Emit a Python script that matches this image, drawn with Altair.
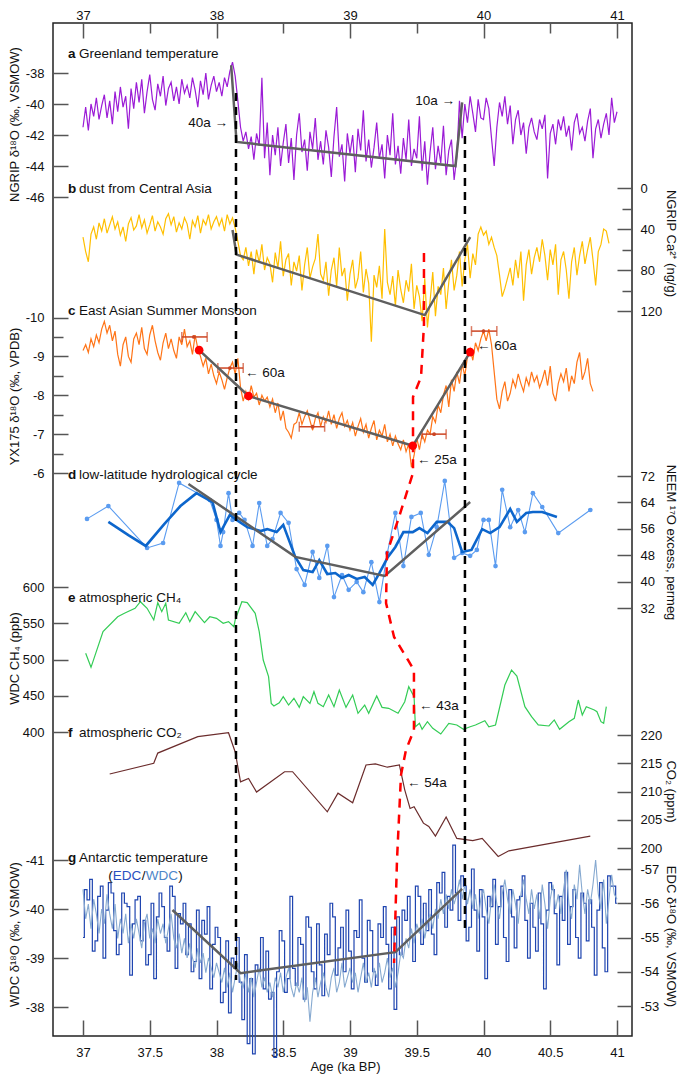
import altair as alt
import pandas as pd

FONT = "Liberation Sans"
STEP = 0.02


def grid(start, n):
    return [round(start + STEP * i, 2) for i in range(n)]


# ---------------- a: NGRIP d18O (permil) ----------------
A_D18O = [
    -41.5, -40.2, -41.7, -40.0, -40.8, -39.6, -41.0, -40.1, -39.4, -40.9,
    -39.8, -41.3, -39.2, -40.5, -38.9, -40.2, -39.5, -41.6, -39.0, -40.3,
    -38.6, -39.9, -38.4, -40.6, -39.2, -38.1, -39.7, -40.4, -38.7, -39.5,
    -38.2, -40.1, -39.0, -38.6, -39.8, -38.9, -40.0, -38.4, -39.3, -38.8,
    -39.6, -38.3, -39.1, -40.2, -38.5, -39.4, -38.0, -39.7, -38.8, -38.2,
    -39.2, -38.6, -39.5, -38.3, -38.9, -37.9, -37.3, -38.2, -39.8, -41.5,
    -42.4, -41.8, -42.9, -42.1, -43.6, -41.9, -42.7, -38.3, -43.5, -41.2,
    -44.6, -42.0, -43.3, -41.5, -44.0, -42.5, -41.3, -43.8, -42.2, -44.9,
    -42.0, -40.6, -43.1, -42.3, -44.3, -41.8, -42.9, -40.9, -43.6, -42.4,
    -43.9, -41.7, -42.8, -44.7, -42.1, -40.2, -43.4, -42.6, -45.0, -41.9,
    -43.2, -42.0, -44.4, -41.6, -43.0, -40.4, -43.7, -42.3, -44.1, -42.8,
    -41.2, -43.5, -42.6, -44.8, -42.0, -43.3, -40.6, -43.9, -42.7, -44.5,
    -42.2, -43.6, -41.0, -44.0, -42.9, -43.5, -40.8, -44.3, -42.4, -45.2,
    -43.1, -41.5, -44.2, -42.7, -43.8, -41.4, -44.6, -43.0, -42.3, -44.9,
    -43.4, -39.8, -42.2, -40.0, -41.2, -39.5, -40.6, -41.8, -39.7, -40.9,
    -41.0, -39.6, -40.3, -42.2, -44.0, -41.5, -39.9, -40.8, -39.5, -41.3,
    -40.1, -42.6, -41.0, -40.4, -42.0, -41.2, -43.2, -41.5, -40.9, -41.8,
    -42.3, -41.0, -41.6, -40.7, -44.8, -41.9, -41.3, -42.6, -41.0, -41.7,
    -40.8, -42.1, -41.4, -43.0, -41.2, -40.6, -41.9, -41.5, -42.4, -41.1,
    -40.3, -43.5, -41.6, -41.0, -42.2, -41.3, -40.6, -42.0, -39.6, -41.2,
    -40.5,
]
A_TREND_AGE = [38.11, 38.15, 39.79, 39.84]
A_TREND_VAL = [-37.5, -42.45, -44.0, -39.9]
A_NOTE_AGE = [38.086, 39.787]
A_NOTE_VAL = [-41.23, -39.81]
A_NOTE_TXT = ["40a \u2192", "10a \u2192"]

# ---------------- b: NGRIP Ca2+ (ng/g) ----------------
B_CA = [
    48, 62, 72, 45, 38, 50, 34, 42, 30, 44,
    36, 28, 40, 33, 46, 38, 52, 35, 29, 41,
    37, 26, 39, 31, 44, 36, 27, 42, 33, 38,
    45, 30, 25, 36, 28, 43, 34, 40, 29, 35,
    50, 32, 38, 27, 44, 31, 36, 26, 40, 33,
    28, 37, 30, 42, 26, 35, 29, 39, 52, 66,
    70, 58, 76, 62, 84, 60, 73, 55, 80, 68,
    74, 92, 63, 78, 52, 86, 70, 64, 95, 72,
    81, 66, 100, 75, 58, 88, 77, 69, 45, 84,
    90, 72, 105, 80, 68, 96, 58, 86, 78, 110,
    84, 70, 98, 88, 62, 102, 79, 93, 150, 85,
    97, 76, 108, 40, 92, 104, 86, 115, 80, 99,
    112, 90, 101, 74, 118, 95, 106, 130, 88, 136,
    110, 82, 125, 96, 104, 78, 118, 92, 70, 100,
    85, 62, 96, 70, 55, 88, 64, 75, 45, 38,
    46, 42, 55, 48, 58, 66, 85, 106, 98, 88,
    78, 95, 70, 88, 62, 110, 75, 60, 84, 68,
    58, 72, 50, 66, 90, 60, 75, 55, 104, 70,
    62, 80, 108, 72, 58, 85, 66, 52, 74, 60,
    48, 70, 95, 62, 55, 40, 42, 54,
]
B_TREND_AGE = [38.12, 38.15, 39.56, 39.90]
B_TREND_VAL = [41, 65, 124, 48]

# ---------------- c: YX175 d18O (permil) ----------------
C_D18O = [
    -9.15, -9.30, -9.10, -9.45, -9.25, -9.55, -9.35, -9.70, -9.90, -9.60,
    -9.80, -9.40, -9.65, -9.05, -8.75, -9.30, -9.50, -9.00, -8.85, -9.45,
    -9.60, -9.30, -9.75, -9.20, -9.05, -9.55, -9.80, -9.40, -9.10, -8.90,
    -9.35, -9.60, -9.20, -9.45, -9.15, -8.95, -9.50, -9.30, -9.70, -9.25,
    -9.40, -9.05, -9.55, -9.20, -9.00, -8.75, -8.95, -8.55, -8.80, -8.50,
    -8.30, -8.60, -8.40, -8.15, -8.45, -8.70, -8.85, -8.55, -8.95, -8.20,
    -7.85, -8.10, -7.90, -8.25, -7.95, -8.05, -7.75, -8.00, -7.85, -7.95,
    -7.70, -7.90, -7.55, -7.80, -7.35, -7.60, -7.15, -7.05, -6.90, -7.25,
    -7.30, -7.55, -7.25, -7.45, -7.60, -7.35, -7.10, -7.40, -7.55, -7.20,
    -7.45, -7.30, -7.60, -7.25, -7.50, -7.15, -7.40, -7.55, -7.20, -7.35,
    -7.10, -7.30, -6.95, -7.20, -7.40, -7.05, -7.25, -6.90, -7.15, -7.35,
    -6.85, -7.10, -6.95, -7.25, -6.80, -7.00, -6.70, -6.95, -6.75, -6.60,
    -6.85, -6.55, -6.75, -6.15, -6.45, -6.90, -6.60, -7.00, -6.80, -7.10,
    -7.00, -7.45, -7.30, -7.75, -7.55, -8.00, -8.25, -7.70, -8.40, -8.10,
    -8.60, -8.30, -8.80, -8.50, -9.00, -9.20, -8.90, -9.35, -9.15, -9.45,
    -9.65, -9.40, -9.70, -9.30, -8.60, -7.90, -7.65, -8.10, -8.35, -7.85,
    -8.05, -8.40, -8.20, -8.55, -8.30, -8.10, -8.45, -8.25, -8.60, -8.35,
    -8.50, -8.20, -8.40, -8.65, -8.25, -8.75, -8.05, -7.85, -8.30, -8.55,
    -8.35, -8.70, -8.10, -8.50, -8.30, -8.85, -9.10, -8.40, -8.60, -8.95,
    -8.30, -8.10,
]
C_PT_AGE = [37.87, 38.24, 39.47, 39.90]
C_PT_VAL = [-9.16, -7.98, -6.70, -9.11]
C_ERR_MID = [37.83, 38.10, 38.72, 39.63, 40.00]
C_ERR_LO = [37.74, 38.01, 38.62, 39.54, 39.91]
C_ERR_HI = [37.93, 38.20, 38.81, 39.72, 40.10]
C_ERR_VAL = [-9.50, -8.70, -7.19, -7.00, -9.65]
C_NOTE_AGE = [38.213, 39.951, 39.502]
C_NOTE_VAL = [-8.573, -9.267, -6.337]
C_NOTE_TXT = ["\u2190 60a", "\u2190 60a", "\u2190 25a"]

# ---------------- d: NEEM 17O-excess (permeg) ----------------
D_AGE = [37.03, 37.19, 37.48, 37.60, 37.72, 37.95, 38.00, 38.03, 38.05, 38.09,
         38.12, 38.17, 38.21, 38.27, 38.32, 38.38, 38.42, 38.48, 38.54, 38.60,
         38.66, 38.72, 38.77, 38.83, 38.88, 38.94, 38.99, 39.05, 39.10, 39.16,
         39.22, 39.28, 39.34, 39.40, 39.46, 39.53, 39.59, 39.65, 39.71, 39.78,
         39.84, 39.90, 39.95, 40.00, 40.04, 40.09, 40.14, 40.20, 40.26, 40.31,
         40.37, 40.44, 40.56, 40.80]
D_XS = [59.0, 62.9, 50.2, 51.7, 69.9, 64.7, 58.7, 50.8, 55.0, 66.8,
        58.7, 60.8, 58.7, 50.8, 63.8, 50.8, 52.9, 60.8, 57.8, 43.8,
        39.0, 49.0, 41.1, 50.8, 35.3, 42.0, 37.5, 39.9, 36.8, 45.9,
        33.8, 48.7, 60.8, 44.7, 59.6, 60.8, 48.1, 56.5, 70.5, 47.2,
        48.7, 47.8, 49.6, 58.7, 58.7, 44.7, 67.8, 56.5, 61.7, 55.0,
        66.8, 62.6, 54.7, 61.7]
D_SM_AGE = [37.19, 37.34, 37.47, 37.61, 37.73, 37.85, 37.97, 38.03, 38.10, 38.15,
            38.23, 38.33, 38.38, 38.45, 38.50, 38.59, 38.65, 38.72, 38.77, 38.83,
            38.89, 38.94, 38.99, 39.05, 39.11, 39.17, 39.22, 39.28, 39.34, 39.40,
            39.47, 39.52, 39.58, 39.65, 39.73, 39.78, 39.84, 39.91, 39.99, 40.05,
            40.12, 40.20, 40.25, 40.32, 40.37, 40.44, 40.55]
D_SM = [58.1, 54.1, 50.8, 57.5, 62.9, 66.8, 64.1, 55.0, 60.2, 58.7,
        56.5, 55.3, 55.9, 55.0, 57.2, 47.5, 43.5, 42.9, 46.5, 42.3,
        42.6, 41.1, 42.0, 40.8, 41.4, 39.0, 42.6, 47.2, 50.5, 55.0,
        55.0, 56.2, 54.7, 58.1, 58.1, 56.2, 49.0, 49.6, 55.9, 54.7,
        56.5, 62.0, 58.1, 60.8, 61.1, 61.1, 59.6]
D_TREND_AGE = [37.79, 38.59, 39.26, 39.90]
D_TREND_VAL = [69.6, 47.5, 41.7, 64.1]

# ---------------- e: WDC CH4 (ppb) ----------------
E_AGE = [37.02, 37.06, 37.15, 37.26, 37.31, 37.39, 37.43, 37.48, 37.53, 37.56,
         37.59, 37.62, 37.64, 37.72, 37.77, 37.80, 37.84, 37.91, 37.95, 38.00,
         38.05, 38.09, 38.13, 38.14, 38.19, 38.23, 38.29, 38.32, 38.35, 38.39,
         38.41, 38.43, 38.47, 38.50, 38.54, 38.58, 38.62, 38.65, 38.70, 38.73,
         38.76, 38.80, 38.84, 38.88, 38.92, 38.97, 39.02, 39.06, 39.11, 39.14,
         39.20, 39.24, 39.29, 39.36, 39.41, 39.44, 39.48, 39.49, 39.52, 39.54,
         39.58, 39.62, 39.68, 39.74, 39.80, 39.85, 39.90, 39.94, 40.01, 40.04,
         40.09, 40.16, 40.21, 40.25, 40.31, 40.36, 40.41, 40.49, 40.53, 40.57,
         40.64, 40.68, 40.71, 40.74, 40.77, 40.83, 40.85, 40.88, 40.90, 40.92]
E_CH4 = [508.5, 489.2, 538.4, 559.0, 563.7, 570.6, 579.7, 570.6, 554.5, 578.4,
         566.0, 577.5, 554.5, 549.9, 564.6, 552.2, 566.0, 550.8, 559.0, 556.8,
         549.9, 552.2, 545.2, 554.5, 579.7, 578.4, 563.7, 538.4, 499.3, 476.3,
         439.5, 435.9, 440.4, 448.7, 437.2, 446.5, 434.0, 448.7, 439.5, 455.6,
         439.5, 434.9, 451.0, 434.9, 457.9, 434.0, 451.0, 425.8, 437.2, 425.8,
         449.7, 434.0, 432.7, 425.8, 441.8, 462.5, 448.7, 407.3, 412.0, 403.7,
         414.2, 405.1, 397.2, 412.0, 409.7, 403.7, 407.3, 409.7, 415.6, 407.3,
         409.7, 464.8, 485.5, 477.2, 434.9, 421.1, 409.7, 408.3, 416.6, 403.7,
         414.2, 418.9, 444.1, 423.4, 434.9, 430.3, 428.0, 414.2, 412.0, 434.9]
E_NOTE_AGE = [39.517]
E_NOTE_VAL = [435.9]
E_NOTE_TXT = ["\u2190 43a"]

# ---------------- f: CO2 (ppm) ----------------
F_AGE = [37.20, 37.53, 37.56, 37.86, 38.09, 38.14, 38.18, 38.24, 38.30, 38.51,
         38.57, 38.83, 38.91, 39.02, 39.12, 39.19, 39.28, 39.37, 39.41, 39.45,
         39.48, 39.55, 39.59, 39.64, 39.72, 39.80, 39.92, 39.99, 40.11, 40.19,
         40.80]
F_CO2 = [213.1, 215.0, 216.8, 219.7, 220.4, 217.0, 211.7, 212.3, 209.9, 213.5,
         213.5, 206.4, 209.7, 208.0, 214.7, 214.9, 214.3, 214.7, 210.3, 207.0,
         207.3, 204.4, 203.8, 202.1, 205.5, 201.7, 201.3, 201.7, 198.5, 199.5,
         202.1]
F_NOTE_AGE = [39.427]
F_NOTE_VAL = [211.56]
F_NOTE_TXT = ["\u2190 54a"]

# ---------------- g: Antarctic d18O (EDC right, WDC left) ----------------
G_EDC = [
    -55.0, -56.4, -56.1, -56.7, -54.6, -54.9, -56.2, -56.5, -54.4, -55.8,
    -56.6, -56.3, -55.2, -54.5, -54.8, -56.3, -56.0, -55.9, -53.9, -55.4,
    -56.1, -56.2, -54.9, -55.5, -54.2, -54.5, -56.0, -53.8, -55.6, -56.3,
    -55.9, -55.0, -54.6, -56.5, -56.2, -54.1, -55.7, -55.4, -56.0, -54.5,
    -55.4, -54.0, -54.3, -55.8, -53.8, -55.5, -55.1, -55.9, -53.5, -54.8,
    -55.3, -55.0, -53.1, -53.4, -54.9, -52.8, -54.4, -54.1, -55.0, -53.7,
    -52.6, -54.5, -51.9, -53.8, -51.6, -54.2, -54.0, -55.0, -53.5, -54.6,
    -53.2, -53.4, -51.5, -54.0, -55.2, -54.9, -53.4, -53.8, -56.2, -54.1,
    -53.6, -55.0, -54.8, -53.2, -55.6, -55.3, -54.0, -53.5, -55.4, -54.2,
    -53.3, -55.1, -54.5, -56.0, -55.6, -53.9, -54.7, -55.3, -54.0, -55.8,
    -54.6, -53.5, -55.2, -55.0, -56.1, -54.4, -53.7, -55.5, -55.2, -54.0,
    -53.6, -55.4, -55.0, -55.9, -54.8, -53.5, -55.3, -52.9, -55.6, -54.5,
    -55.8, -55.5, -56.2, -55.0, -54.3, -56.5, -56.2, -54.8, -56.0, -55.2,
    -56.4, -55.1, -54.5, -56.6, -56.3, -56.9, -55.3, -56.2, -55.8, -57.7,
    -56.3, -55.5, -56.8, -56.5, -54.9, -55.3, -57.0, -55.8, -54.6, -56.4,
    -55.6, -53.8, -56.2, -55.9, -56.7, -54.8, -55.9, -56.5, -55.0, -54.3,
    -56.4, -55.6, -54.7, -56.1, -56.2, -56.8, -55.5, -54.4, -56.0, -55.3,
    -54.6, -56.3, -55.4, -53.5, -55.8, -56.6, -56.4, -55.7, -54.2, -56.2,
    -55.5, -56.9, -54.8, -55.9, -56.4, -55.0, -54.4, -56.3, -56.0, -54.9,
    -56.1, -55.3, -53.9, -55.8, -56.6, -54.7, -54.0, -56.8, -56.5, -56.5,
    -56.0,
]
G_WDC = [
    -40.4, -39.8, -40.1, -39.6, -40.2, -39.9, -39.5, -40.0, -39.7, -40.3,
    -39.9, -39.6, -40.1, -39.4, -39.8, -39.5, -39.9, -39.3, -39.7, -39.4,
    -39.8, -39.5, -39.2, -39.7, -39.9, -39.4, -39.6, -39.3, -39.8, -39.5,
    -39.7, -39.3, -39.6, -39.9, -39.4, -39.2, -39.5, -39.1, -39.4, -39.0,
    -39.3, -39.0, -38.8, -39.2, -38.9, -39.1, -38.7, -39.0, -38.8, -38.6,
    -38.9, -38.7, -38.5, -38.8, -38.4, -38.7, -38.3, -38.6, -38.9, -38.5,
    -38.4, -38.7, -38.3, -38.6, -38.2, -38.5, -38.8, -38.4, -38.6, -38.3,
    -38.5, -38.2, -38.6, -38.4, -38.7, -38.3, -38.6, -38.8, -38.4, -38.2,
    -38.5, -38.3, -38.6, -38.1, -38.4, -37.7, -38.3, -38.6, -38.2, -38.5,
    -38.7, -38.4, -38.2, -38.6, -38.8, -38.3, -38.5, -38.9, -38.4, -38.6,
    -38.8, -38.5, -38.7, -38.3, -38.6, -38.9, -38.5, -38.7, -38.4, -38.8,
    -38.6, -38.9, -38.5, -38.7, -39.0, -38.6, -38.8, -38.4, -38.7, -39.1,
    -39.0, -39.4, -39.2, -39.6, -39.3, -39.7, -39.5, -39.8, -39.4, -39.7,
    -39.9, -39.6, -40.0, -39.8, -40.2, -39.9, -40.3, -40.0, -40.4, -40.1,
    -40.3, -40.6, -40.2, -40.5, -40.1, -40.4, -40.0, -40.3, -39.8, -40.2,
    -40.4, -40.0, -39.7, -40.2, -40.5, -40.1, -39.8, -40.3, -40.6, -40.2,
    -39.9, -40.4, -40.1, -39.7, -40.3, -40.6, -40.2, -39.9, -40.4, -40.0,
    -40.3, -39.8, -40.5, -40.1, -39.6, -40.2, -40.5, -40.0, -40.3, -39.9,
    -40.4, -40.8, -40.1, -39.8, -40.5, -40.2, -40.9, -40.3, -39.9, -40.4,
    -40.1, -40.5, -41.0, -40.3, -40.0, -40.6, -39.7, -40.2, -40.7, -40.3,
    -40.2,
]
G_TREND_AGE = [37.67, 38.18, 39.34, 39.84]
G_TREND_VAL = [-39.98, -38.69, -39.12, -40.41]

# ---------------- cross-panel guides (fraction of plot height) ----------------
RED_AGE = [39.554, 39.554, 39.532, 39.472, 39.472, 39.360, 39.277, 39.270,
           39.330, 39.434, 39.479, 39.479, 39.419, 39.382, 39.352, 39.330]
RED_POS = [0.2270, 0.2981, 0.3495, 0.3692, 0.4442, 0.4906, 0.5232, 0.5726,
           0.6061, 0.6288, 0.6387, 0.6979, 0.7177, 0.7424, 0.8263, 0.9280]
BLACK_AGE = [38.146, 39.861]
BLACK_TOP = [0.0691, 0.1115]
BLACK_BOT = [0.9447, 0.8983]

PANEL_LETTER = ["a", "b", "c", "d", "e", "f", "g"]
PANEL_TITLE = ["Greenland temperature", "dust from Central Asia",
               "East Asian Summer Monsoon", "low-latitude hydrological cycle",
               "atmospheric CH\u2084", "atmospheric CO\u2082", "Antarctic temperature"]
PANEL_POS = [0.0306, 0.1639, 0.2843, 0.4462, 0.5676, 0.7009, 0.8243]
LABEL_AGE = 36.888
SUB_AGE = 37.19
SUB_POS = 0.8421

# ---------------- layout helpers ----------------
PLOT_W, PLOT_H, TOP = 579, 1013, 23
X_DOMAIN, X_RANGE = [37, 41], [30, 564]
TXT = 13.5


def px(page_y):
    return page_y - TOP


SC = {
    "a": ([-46, -38], [px(197), px(73)]),
    "b": ([0, 120], [px(188), px(311)]),
    "c": ([-10, -6], [px(317.5), px(473)]),
    "d": ([32, 72], [px(608), px(476)]),
    "e": ([400, 600], [px(732), px(587)]),
    "f": ([200, 220], [px(848), px(735)]),
    "gw": ([-41, -38], [px(860), px(1007)]),
    "ge": ([-57, -53], [px(869), px(1006)]),
    "track": ([0, 1], [0, PLOT_H]),
}


def xenc(field="age", axis=None):
    return alt.X(f"{field}:Q", scale=alt.Scale(domain=X_DOMAIN, range=X_RANGE), axis=axis)


def yenc(panel, field="v", axis=None):
    d, r = SC[panel]
    return alt.Y(f"{field}:Q", scale=alt.Scale(domain=d, range=r), axis=axis)


COMMON_AX = dict(domain=False, grid=False, labelFlush=False, labelOverlap=False,
                 labelExpr="toString(datum.value)")


def side_axis(orient, values, title, title_page_y):
    left = orient == "left"
    return alt.Axis(orient=orient, values=values, offset=-15, tickSize=15,
                    labelPadding=9 if left else 8, title=title,
                    titleX=-53.5 if left else 53, titleY=title_page_y - TOP,
                    titleAngle=-90 if left else 90, titleAlign="center",
                    titleBaseline="middle", **COMMON_AX)


def minor_axis(orient, values):
    return alt.Axis(orient=orient, values=values, offset=-10, tickSize=10,
                    labels=False, title=None, domain=False, grid=False)


def line(df, panel, color, width=1.2, axis=None, **kw):
    return alt.Chart(df).mark_line(color=color, strokeWidth=width, **kw).encode(
        x=xenc(), y=yenc(panel, axis=axis))


def notes(ages, vals, texts, panel, align):
    df = pd.DataFrame({"age": ages, "v": vals, "t": texts})
    return alt.Chart(df).mark_text(align=align, baseline="middle", font=FONT,
                                   fontSize=TXT, color="#111").encode(
        x=xenc(), y=yenc(panel), text="t:N")


GRAY = "#5f5f5f"
layers = []

# a
dfa = pd.DataFrame({"age": grid(37.0, len(A_D18O)), "v": A_D18O})
layers.append(line(dfa, "a", "#9b1bd6", axis=side_axis(
    "left", [-38, -40, -42, -44, -46], "NGRIP \u03b4\u00b9\u2078O (\u2030, VSMOW)", 124)))
layers.append(line(pd.DataFrame({"age": A_TREND_AGE, "v": A_TREND_VAL}), "a", GRAY, 2.5))
layers.append(notes(A_NOTE_AGE, A_NOTE_VAL, A_NOTE_TXT, "a", "right"))

# b
dfb = pd.DataFrame({"age": grid(37.0, len(B_CA)), "v": B_CA})
layers.append(line(dfb, "b", "#ffbf00", axis=side_axis(
    "right", [0, 40, 80, 120], "NGRIP Ca\u00b2\u207a (ng/g)", 243)))
layers.append(line(pd.DataFrame({"age": B_TREND_AGE, "v": B_TREND_VAL}), "b", GRAY, 2.5,
                   axis=minor_axis("right", [20, 60, 100])))

# c
dfc = pd.DataFrame({"age": grid(37.0, len(C_D18O)), "v": C_D18O})
layers.append(line(dfc, "c", "#ff7417", axis=side_axis(
    "left", [-10, -9, -8, -7, -6], "YX175 \u03b4\u00b9\u2078O (\u2030, VPDB)", 396)))
ERR = "#cc4422"
dferr = pd.DataFrame({"age": C_ERR_LO, "hi": C_ERR_HI, "mid": C_ERR_MID, "v": C_ERR_VAL})
layers.append(alt.Chart(dferr).mark_rule(color=ERR, strokeWidth=1.5).encode(
    x=xenc(axis=None), x2=alt.X2("hi:Q"),
    y=yenc("c", axis=minor_axis("left", [-9.5, -8.5, -7.5, -6.5]))))
dfcap = pd.DataFrame({"age": C_ERR_LO + C_ERR_HI, "v": C_ERR_VAL + C_ERR_VAL})
layers.append(alt.Chart(dfcap).mark_tick(orient="vertical", size=10, thickness=1.5,
                                         color=ERR).encode(x=xenc(), y=yenc("c")))
layers.append(alt.Chart(dferr).mark_circle(size=14, color=ERR, opacity=1).encode(
    x=xenc("mid"), y=yenc("c")))
layers.append(line(pd.DataFrame({"age": C_PT_AGE, "v": C_PT_VAL}), "c", GRAY, 2.5))
layers.append(alt.Chart(pd.DataFrame({"age": C_PT_AGE, "v": C_PT_VAL})).mark_circle(
    size=75, color="#ff0000", opacity=1).encode(x=xenc(), y=yenc("c")))
layers.append(notes(C_NOTE_AGE, C_NOTE_VAL, C_NOTE_TXT, "c", "left"))

# d
dfd = pd.DataFrame({"age": D_AGE, "v": D_XS})
layers.append(line(dfd, "d", "#5b9cf0", 1.1, axis=side_axis(
    "right", [32, 40, 48, 56, 64, 72], "NEEM \u00b9\u2077O excess, permeg", 542)))
layers.append(alt.Chart(dfd).mark_circle(size=22, color="#5b9cf0", opacity=1).encode(
    x=xenc(), y=yenc("d")))
layers.append(line(pd.DataFrame({"age": D_SM_AGE, "v": D_SM}), "d", "#0d66cc", 2.6))
layers.append(line(pd.DataFrame({"age": D_TREND_AGE, "v": D_TREND_VAL}), "d", GRAY, 2.5))

# e
dfe = pd.DataFrame({"age": E_AGE, "v": E_CH4})
layers.append(line(dfe, "e", "#33cc55", axis=side_axis(
    "left", [400, 450, 500, 550, 600], "WDC CH\u2084 (ppb)", 658)))
layers.append(notes(E_NOTE_AGE, E_NOTE_VAL, E_NOTE_TXT, "e", "left"))

# f
dff = pd.DataFrame({"age": F_AGE, "v": F_CO2})
layers.append(line(dff, "f", "#6b2c2c", axis=side_axis(
    "right", [200, 205, 210, 215, 220], "CO\u2082 (ppm)", 791)))
layers.append(notes(F_NOTE_AGE, F_NOTE_VAL, F_NOTE_TXT, "f", "left"))

# g
dfge = pd.DataFrame({"age": grid(37.0, len(G_EDC)), "v": G_EDC})
layers.append(line(dfge, "ge", "#1f45b0", 1.2, interpolate="step", axis=side_axis(
    "right", [-57, -56, -55, -54, -53], "EDC \u03b4\u00b9\u2078O (\u2030, VSMOW)", 936)))
dfgw = pd.DataFrame({"age": grid(37.0, len(G_WDC)), "v": G_WDC})
layers.append(line(dfgw, "gw", "#86a9d0", 1.1, axis=side_axis(
    "left", [-41, -40, -39, -38], "WDC \u03b4\u00b9\u2078O (\u2030, VSMOW)", 934)))
layers.append(line(pd.DataFrame({"age": G_TREND_AGE, "v": G_TREND_VAL}), "gw", GRAY, 2.5))

# black dashed guides (carry the top axis)
dfb_guides = pd.DataFrame({"age": BLACK_AGE, "v": BLACK_TOP, "v2": BLACK_BOT})
layers.append(alt.Chart(dfb_guides).mark_rule(color="black", strokeWidth=2.5,
                                              strokeDash=[8, 6]).encode(
    x=xenc(axis=alt.Axis(orient="top", values=[37, 38, 39, 40, 41], offset=-15,
                         tickSize=15, labelPadding=1, title=None, **COMMON_AX)),
    y=yenc("track"), y2=alt.Y2("v2:Q")))

# red dashed path (carries the bottom axis)
dfr = pd.DataFrame({"age": RED_AGE, "v": RED_POS, "i": list(range(len(RED_AGE)))})
layers.append(alt.Chart(dfr).mark_line(color="#ff0000", strokeWidth=2.5,
                                       strokeDash=[9, 7]).encode(
    x=xenc(axis=alt.Axis(orient="bottom",
                         values=[37, 37.5, 38, 38.5, 39, 39.5, 40, 40.5, 41],
                         offset=-16, tickSize=16, labelPadding=10,
                         title="Age (ka BP)", titleX=292, titleY=46,
                         titleBaseline="middle", titleAlign="center", **COMMON_AX)),
    y=yenc("track"), order="i:Q"))

# panel labels
dfl = pd.DataFrame({"age": [LABEL_AGE] * 7, "v": PANEL_POS,
                    "L": PANEL_LETTER, "T": PANEL_TITLE})
layers.append(alt.Chart(dfl).mark_text(align="left", baseline="middle", font=FONT,
                                       fontSize=TXT, fontWeight="bold", color="#111").encode(
    x=xenc(axis=minor_axis("top", [37.5, 38.5, 39.5, 40.5])), y=yenc("track"), text="L:N"))
layers.append(alt.Chart(dfl).mark_text(align="left", baseline="middle", font=FONT,
                                       fontSize=TXT, dx=11, color="#111").encode(
    x=xenc(), y=yenc("track"), text="T:N"))

# (EDC/WDC)
SUB_PIECES = ["(", "EDC", "/", "WDC", ")"]
SUB_COLORS = ["#111111", "#2a50c0", "#111111", "#4d86c8", "#111111"]
SUB_DX = [0, 4.5, 33.5, 37.5, 70]
for piece, col, dx in zip(SUB_PIECES, SUB_COLORS, SUB_DX):
    layers.append(alt.Chart(pd.DataFrame({"age": [SUB_AGE], "v": [SUB_POS], "t": [piece]}))
                  .mark_text(align="left", baseline="middle", font=FONT, fontSize=TXT,
                             dx=dx, color=col)
                  .encode(x=xenc(), y=yenc("track"), text="t:N"))

chart = (
    alt.layer(*layers)
    .resolve_scale(x="independent", y="independent")
    .resolve_axis(x="independent", y="independent")
    .properties(width=PLOT_W, height=PLOT_H,
                autosize=alt.AutoSizeParams(type="none"),
                padding={"left": 45, "top": 15, "right": 45, "bottom": 38})
    .configure_axis(labelFont=FONT, labelFontSize=13, labelColor="#111",
                    titleFont=FONT, titleFontSize=13, titleFontWeight="normal",
                    titleColor="#111", tickColor="#555", tickWidth=1.5)
    .configure_view(stroke="#222", strokeWidth=1.5)
)

chart.save("out.html", embed_options={"renderer": "svg", "actions": False})
